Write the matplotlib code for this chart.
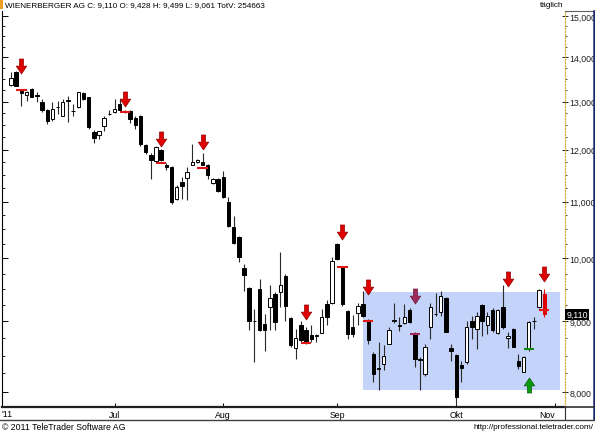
import numpy as np
import matplotlib
matplotlib.use("Agg")
from matplotlib import pyplot as plt
from matplotlib.path import Path
from matplotlib.patches import Rectangle
from matplotlib.lines import Line2D
from matplotlib.ticker import FixedLocator, NullFormatter, NullLocator

plt.rcParams['font.family'] = ['Liberation Sans', 'DejaVu Sans']

# daily OHLC, Wienerberger AG, Jun - Oct 2011
opens = [13.37, 13.66, 13.24, 13.15, 13.28, 13.14, 13.00, 12.81, 12.62, 12.88,
         12.70, 13.01, 12.79, 12.88, 13.18, 13.10, 12.35, 12.30, 12.49, 12.73,
         12.77, 12.95, 12.79, 12.79, 12.65, 12.70, 12.09, 11.89, 11.78, 11.99,
         11.70, 11.65, 11.04, 11.37, 11.44, 11.70, 11.75, 11.76, 11.70, 11.35,
         11.42, 11.46, 10.99, 10.54, 10.37, 9.84, 9.52, 9.00, 9.50, 8.96,
         9.22, 9.42, 9.45, 9.71, 9.05, 8.61, 8.94, 8.87, 8.80, 8.79,
         8.83, 9.26, 9.29, 10.25, 9.86, 9.16, 8.92, 9.13, 9.27, 9.01,
         8.52, 8.31, 8.38, 8.67, 9.01, 8.93, 8.97, 9.18, 8.82, 8.44,
         8.24, 8.91, 9.11, 9.14, 9.36, 8.61, 8.51, 8.37, 8.41, 9.01,
         8.88, 9.25, 8.94, 9.17, 8.83, 9.22, 8.75, 8.89, 8.43, 8.27,
         8.60, 9.00, 9.22, 9.428]
highs = [13.66, 13.69, 13.28, 13.23, 13.30, 13.21, 13.06, 12.84, 12.99, 13.02,
         13.06, 13.13, 12.95, 13.22, 13.21, 13.10, 12.39, 12.38, 12.70, 12.81,
         13.06, 13.06, 12.81, 12.81, 12.69, 12.72, 12.11, 11.93, 12.08, 12.02,
         11.74, 11.67, 11.30, 11.46, 11.65, 12.11, 11.81, 11.93, 11.72, 11.44,
         11.44, 11.58, 11.08, 10.74, 10.39, 9.91, 9.53, 9.19, 9.67, 9.12,
         9.56, 9.45, 10.11, 9.75, 9.06, 8.89, 9.00, 8.91, 8.94, 8.82,
         9.19, 9.33, 10.02, 10.27, 9.88, 9.17, 9.10, 9.29, 9.47, 9.04,
         8.55, 8.70, 8.65, 8.92, 9.29, 9.06, 9.27, 9.20, 8.84, 8.48,
         8.67, 9.29, 9.44, 9.47, 9.38, 8.66, 8.52, 8.43, 9.01, 9.09,
         9.14, 9.26, 9.14, 9.20, 9.19, 9.56, 8.84, 8.90, 8.52, 8.50,
         9.01, 9.07, 9.51, 9.499]
lows = [13.35, 13.35, 12.91, 13.02, 13.10, 12.99, 12.77, 12.52, 12.59, 12.74,
        12.69, 12.56, 12.70, 12.86, 13.04, 12.41, 12.13, 12.21, 12.37, 12.72,
        12.76, 12.82, 12.75, 12.55, 12.42, 12.08, 11.92, 11.42, 11.76, 11.77,
        11.59, 10.96, 11.02, 11.05, 11.02, 11.69, 11.74, 11.69, 11.42, 11.33,
        11.18, 11.07, 10.54, 10.25, 9.94, 9.47, 8.87, 8.41, 8.86, 8.57,
        8.87, 8.87, 9.22, 9.01, 8.62, 8.45, 8.69, 8.67, 8.69, 8.69,
        8.83, 8.94, 9.27, 9.98, 9.24, 8.74, 8.77, 8.94, 9.07, 8.67,
        8.13, 8.02, 8.30, 8.66, 8.97, 8.86, 8.96, 8.97, 8.34, 8.02,
        8.22, 8.74, 9.09, 9.09, 8.84, 8.43, 7.83, 8.13, 8.38, 8.74,
        8.59, 8.79, 8.82, 8.85, 8.82, 8.89, 8.61, 8.62, 8.31, 8.27,
        8.57, 8.89, 9.20, 9.061]
closes = [13.52, 13.35, 13.18, 13.22, 13.11, 13.13, 12.81, 12.59, 12.84, 12.89,
          13.00, 13.03, 12.80, 13.21, 13.06, 12.46, 12.23, 12.37, 12.65, 12.74,
          12.84, 12.83, 12.77, 12.62, 12.50, 12.11, 11.96, 11.79, 12.06, 11.79,
          11.65, 10.99, 11.27, 11.29, 11.55, 11.75, 11.80, 11.70, 11.49, 11.42,
          11.20, 11.08, 10.56, 10.26, 10.02, 9.72, 9.00, 9.01, 8.87, 8.87,
          9.36, 8.99, 9.56, 9.24, 8.65, 8.75, 8.72, 8.69, 8.74, 8.80,
          9.06, 9.07, 9.95, 9.99, 9.27, 8.81, 8.82, 9.23, 9.09, 8.72,
          8.24, 8.33, 8.50, 8.87, 9.02, 8.94, 9.07, 8.99, 8.45, 8.45,
          8.63, 9.22, 9.12, 9.39, 8.85, 8.56, 7.93, 8.32, 8.91, 8.91,
          9.09, 9.01, 9.09, 8.87, 9.17, 8.91, 8.79, 8.63, 8.36, 8.48,
          8.99, 9.01, 9.48, 9.110]

month_pos = [20, 41, 63, 86, 105]
month_names = ["Jul", "Aug", "Sep", "Okt", "Nov"]
price_ticks = [8, 9, 10, 11, 12, 13, 14, 15]

# signal arrows (candle index, price at arrow centre)
sell_idx = [2, 22, 29, 37, 57, 64, 69, 96, 103]
sell_at = [13.79, 13.05, 12.21, 12.16, 9.15, 10.46, 9.54, 9.67, 9.75]
warn_idx = [78]
warn_at = [9.39]
buy_idx = [100]
buy_at = [8.09]

# short signal levels
level_idx = [2, 22, 29, 37, 57, 64, 69, 103]
level_price = [13.26, 12.77, 11.74, 11.64, 8.68, 9.86, 9.01, 9.17]
warn_level = [8.82]
buy_level = [8.60]

# trading range box
zone_start, zone_end = 68, 106
zone_low, zone_high = 8.02, 9.46

last_close = 9.110
header = "WIENERBERGER AG C: 9,110 O: 9,428 H: 9,499 L: 9,061 TotV: 254663"


def fx(px):
    return px / 595.0


def fy(py):
    return 1 - py / 435.0


def arrow_path(up=False):
    verts = [(-0.27, 1), (0.27, 1), (0.27, 0.05), (0.7, 0.05), (0, -1),
             (-0.7, 0.05), (-0.27, 0.05), (-0.27, 1)]
    if up:
        verts = [(x, -y) for x, y in verts]
    codes = [Path.MOVETO] + [Path.LINETO] * 6 + [Path.CLOSEPOLY]
    return Path(verts, codes)


fig = plt.figure(figsize=(5.95, 4.35), dpi=100)
ax = fig.add_axes([fx(2), 27 / 435, 563 / 595, 396 / 435])

x = np.arange(len(opens))
o = np.array(opens)
c = np.array(closes)
up = c >= o
body_col = np.where(up, "white", "black").astype(object)
edge_col = np.array(["black"] * len(o), dtype=object)
wick_col = np.array(["#2a2a2a"] * len(o), dtype=object)
# last candle is highlighted red
body_col[-1] = "#e00000"
edge_col[-1] = "#e00000"
wick_col[-1] = "#e00000"

ax.add_patch(Rectangle((zone_start, zone_low), zone_end - zone_start, zone_high - zone_low,
                       facecolor="#c4d3f9", edgecolor="none", zorder=0))

ax.vlines(x, lows, highs, colors=list(wick_col), linewidth=0.8, zorder=2)
bottoms = np.minimum(o, c)
heights = np.maximum(np.abs(c - o), 0.004)
ax.bar(x, heights, bottom=bottoms, width=0.66, color=list(body_col),
       edgecolor=list(edge_col), linewidth=0.7, zorder=3)

ax.hlines(level_price, np.array(level_idx) - 1, np.array(level_idx) + 1,
          colors="#e01818", linewidth=1.5, zorder=4)
ax.hlines(warn_level, np.array(warn_idx) - 1, np.array(warn_idx) + 1,
          colors="#a0285a", linewidth=1.5, zorder=4)
ax.hlines(buy_level, np.array(buy_idx) - 1, np.array(buy_idx) + 1,
          colors="#108a10", linewidth=1.5, zorder=4)

ax.plot(sell_idx, sell_at, linestyle="none", marker=arrow_path(), markersize=10.8,
        markerfacecolor="#e00000", markeredgecolor="#900000", markeredgewidth=0.5, zorder=5)
ax.plot(warn_idx, warn_at, linestyle="none", marker=arrow_path(), markersize=10.8,
        markerfacecolor="#a0285a", markeredgecolor="#6a1a3c", markeredgewidth=0.5, zorder=5)
ax.plot(buy_idx, buy_at, linestyle="none", marker=arrow_path(up=True), markersize=10.8,
        markerfacecolor="#0a9a0a", markeredgecolor="#065806", markeredgewidth=0.5, zorder=5)

ax.set_yscale("log")
ax.set_ylim(7.80, 15.13)
ax.set_xlim(-1.74, 107.0)

for s in ["top", "right"]:
    ax.spines[s].set_visible(False)
ax.spines["left"].set_linewidth(0.8)
ax.spines["bottom"].set_linewidth(1.6)
ax.spines["bottom"].set_color("#202020")

minor_ticks = [v for v in np.arange(7.75, 15.2, 0.25) if v not in price_ticks]
ax.yaxis.set_major_locator(FixedLocator(price_ticks))
ax.yaxis.set_minor_locator(FixedLocator(minor_ticks))
ax.yaxis.set_major_formatter(NullFormatter())
ax.yaxis.set_minor_formatter(NullFormatter())
ax.tick_params(axis="y", which="major", direction="in", length=4, width=0.7)
ax.tick_params(axis="y", which="minor", direction="in", length=2.5, width=0.6)

ax.set_xticks(month_pos)
ax.set_xticklabels(month_names)
ax.xaxis.set_minor_locator(NullLocator())
ax.tick_params(axis="x", direction="in", length=3, width=0.7, labelsize=6.3, pad=2)
for lab in ax.get_xticklabels():
    if lab.get_text() == "Nov":
        lab.set_horizontalalignment("right")
        lab.set_x(107)

ax2 = ax.twinx()
ax2.set_yscale("log")
ax2.set_ylim(ax.get_ylim())
ax2.yaxis.set_major_locator(FixedLocator(price_ticks))
ax2.yaxis.set_minor_locator(FixedLocator(minor_ticks))
ax2.set_yticklabels([f"{v:.3f}".replace(".", ",") for v in price_ticks])
ax2.yaxis.set_minor_formatter(NullFormatter())
ax2.tick_params(axis="y", which="major", direction="inout", length=4, width=0.7,
                labelsize=6.3, pad=1, colors="#202020")
ax2.tick_params(axis="y", which="minor", direction="out", length=1.5, width=0.5)
for s in ["top", "left", "bottom"]:
    ax2.spines[s].set_visible(False)
ax2.spines["right"].set_linestyle((0, (1, 1.5)))
ax2.spines["right"].set_color("#d4b040")
ax2.spines["right"].set_linewidth(0.9)

ax2.text(1.002, last_close, "9,110", transform=ax2.get_yaxis_transform(),
         ha="left", va="center", fontsize=6.3, color="white",
         bbox=dict(boxstyle="square,pad=0.12", facecolor="black", edgecolor="none"))

# year label at the start of the date strip
fig.text(fx(1), fy(415), "'11", ha="left", va="center", fontsize=6.3)

# frame around the chart
fig.add_artist(Rectangle((0, fy(10)), fx(3), 10 / 435, facecolor="#f0a020",
                         edgecolor="none", transform=fig.transFigure))
fig.add_artist(Line2D([fx(565), fx(594)], [fy(12), fy(12)], color="#606060", lw=0.8))
fig.add_artist(Line2D([fx(594), fx(594)], [fy(12), fy(420)], color="#1c2a6e", lw=1.8))
fig.add_artist(Line2D([fx(565), fx(565)], [fy(408), fy(420)], color="#303030", lw=0.8))
fig.add_artist(Line2D([fx(565), fx(594)], [fy(408), fy(408)], color="#303030", lw=1.2))
fig.add_artist(Line2D([0, 1], [fy(420.5), fy(420.5)], color="#404040", lw=1.0))

fig.text(fx(5), fy(6), header, ha="left", va="center", fontsize=5.9)
fig.text(fx(552), fy(5.5), "täglich", ha="center", va="center", fontsize=5.9)
fig.text(fx(2), fy(428), "\u00a9 2011 TeleTrader Software AG", ha="left", va="center",
         fontsize=6.3)
fig.text(fx(594), fy(428), "http://professional.teletrader.com/", ha="right", va="center",
         fontsize=5.9)

fig.savefig("out.png", dpi=100)
